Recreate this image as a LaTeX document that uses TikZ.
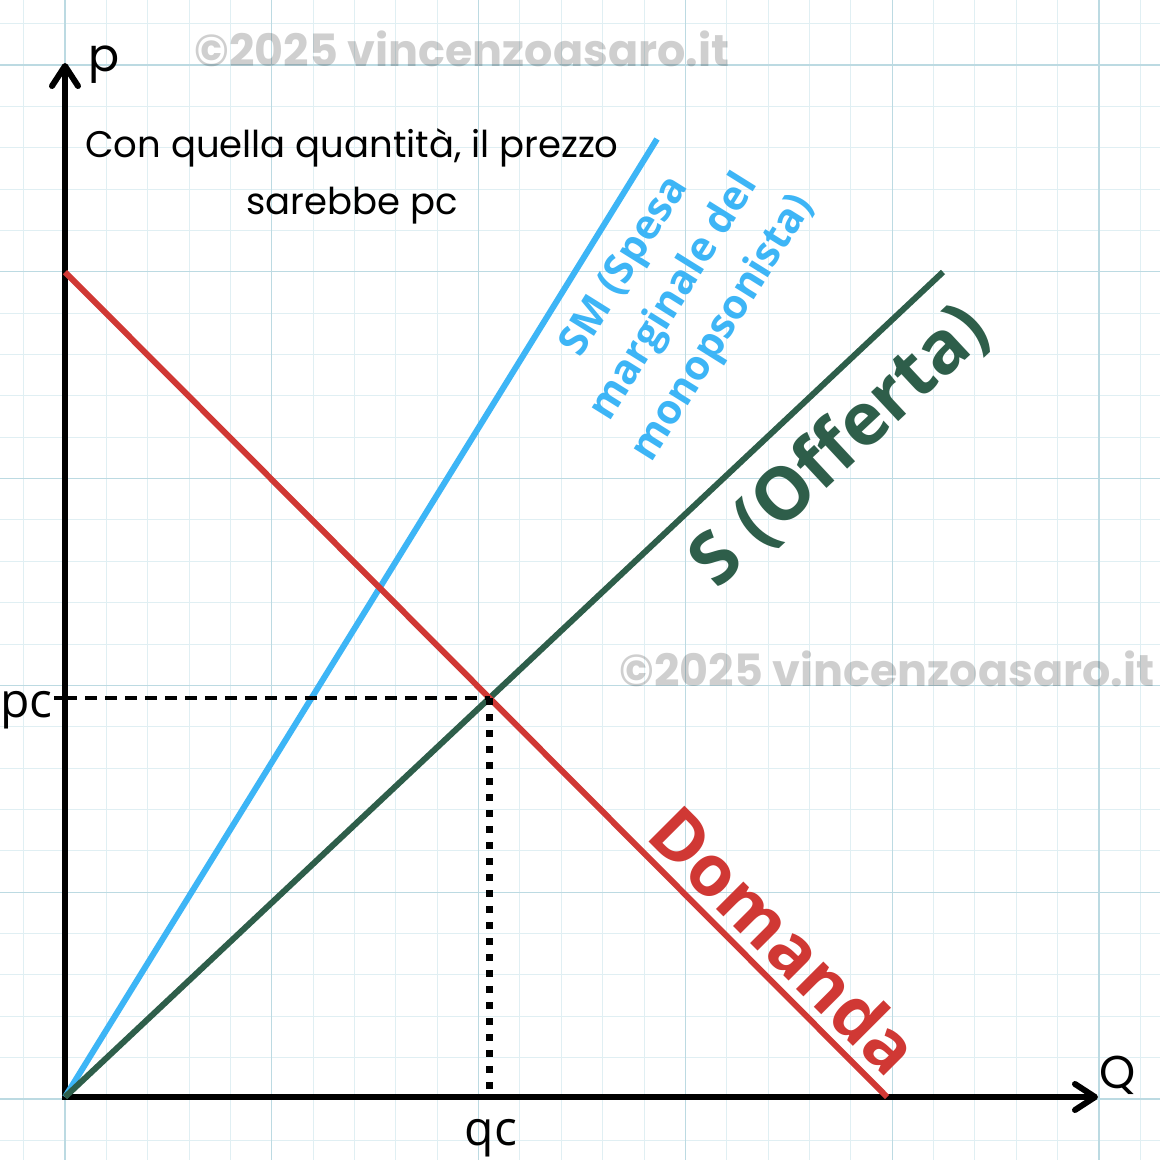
\documentclass[tikz,border=0pt]{standalone}
\usepackage{fontspec}
\setmainfont{Poppins}
\newfontfamily\osans{Open Sans}
\usetikzlibrary{arrows.meta}
\definecolor{gridminor}{HTML}{E0EFF3}
\definecolor{gridmajor}{HTML}{BCDAE2}
\definecolor{dred}{HTML}{D03834}
\definecolor{sgreen}{HTML}{2E5E4A}
\definecolor{smblue}{HTML}{3DB5F6}
\tikzset{
  gridmin/.style={draw=gridminor, line width=1pt},
  gridmaj/.style={draw=gridmajor, line width=1.3pt},
  axis/.style={line width=6pt, black, line join=miter,
    {Straight Barb[length=20pt,width=26pt,round]}-{Straight Barb[length=20pt,width=26pt,round]}},
  curve/.style={line width=6pt},
  guide/.style={line width=4pt, black, dash pattern=on 12pt off 8pt},
  dotguide/.style={line width=7pt, black, dash pattern=on 7pt off 9pt},
  watermark/.style={inner sep=0pt, anchor=base, black, opacity=0.19, font=\fontsize{44.5}{50}\selectfont\bfseries},
  axlabel/.style={inner sep=0pt, font=\fontsize{46}{50}\selectfont},
  vallabel/.style={inner sep=0pt, font=\osans\fontsize{48}{56}\selectfont},
  curvelabel/.style={inner sep=0pt}
}
\begin{document}
\begin{tikzpicture}[x=1pt,y=-1pt]
\useasboundingbox (0,0) rectangle (1160,1160);
\fill[white] (0,0) rectangle (1160,1160);
% grid
\foreach \i in {0,...,27} {
  \pgfmathsetmacro\p{23.6+41.36*\i}
  \draw[gridmin] (\p,0) -- (\p,1160);
  \draw[gridmin] (0,\p) -- (1160,\p);
}
\foreach \i in {0,...,5} {
  \pgfmathsetmacro\p{65+206.8*\i}
  \draw[gridmaj] (\p,0) -- (\p,1160);
  \draw[gridmaj] (0,\p) -- (1160,\p);
}
% watermarks
\node[watermark] (wm1) at (462,66) {©2025 vincenzoasaro.it};
\node[watermark] (wm2) at (887,686) {©2025 vincenzoasaro.it};
% coordinates
\coordinate (O) at (65,1097);
\coordinate (Ytop) at (65,63);
\coordinate (Xend) at (1098,1097);
\coordinate (Dtop) at (65,272);
\coordinate (Dend) at (887,1097);
\coordinate (Send) at (943,272);
\coordinate (SMend) at (657,139);
\coordinate (E) at (intersection of Dtop--Dend and O--Send);
\coordinate (Pc) at (O |- E);
\coordinate (Qc) at (E |- O);
\coordinate (Tick) at ([xshift=-11pt]Pc);
% axes
\draw[axis] (Ytop) -- (O) -- (Xend);
\draw[line width=4pt] (Tick) -- (Pc);
% curves
\draw[curve, smblue] (O) -- (SMend);
\draw[curve, sgreen] (O) -- (Send);
\draw[curve, dred] (Dtop) -- (Dend);
% guides
\draw[guide] (Pc) -- (E);
\draw[dotguide] (E) -- (Qc);
% labels
\node[axlabel, anchor=base west] (plab) at (88,71) {p};
\node[axlabel, anchor=base west] (qlab) at (1099,1088) {Q};
\node[vallabel, anchor=base east] (pclab) at (53,717) {pc};
\node[vallabel, anchor=base] (qclab) at (491,1145) {qc};
\node[inner sep=0pt, anchor=base, font=\fontsize{37}{50}\selectfont] (t1) at (352,157) {Con quella quantità, il prezzo};
\node[inner sep=0pt, anchor=base, font=\fontsize{37}{50}\selectfont] (t2) at (352,214) {sarebbe pc};
\node[curvelabel, smblue, rotate=58, align=center, font=\osans\bfseries\fontsize{41}{58}\selectfont] (smlab) at (675,298) {SM (Spesa\\marginale del\\monopsonista)};
\node[curvelabel, sgreen, rotate=43, font=\osans\bfseries\fontsize{73}{80}\selectfont] (slab) at (840,446) {S (Offerta)};
\node[curvelabel, dred, rotate=-45, font=\osans\bfseries\fontsize{71}{80}\selectfont] (dlab) at (785,940) {Domanda};
\end{tikzpicture}
\end{document}
